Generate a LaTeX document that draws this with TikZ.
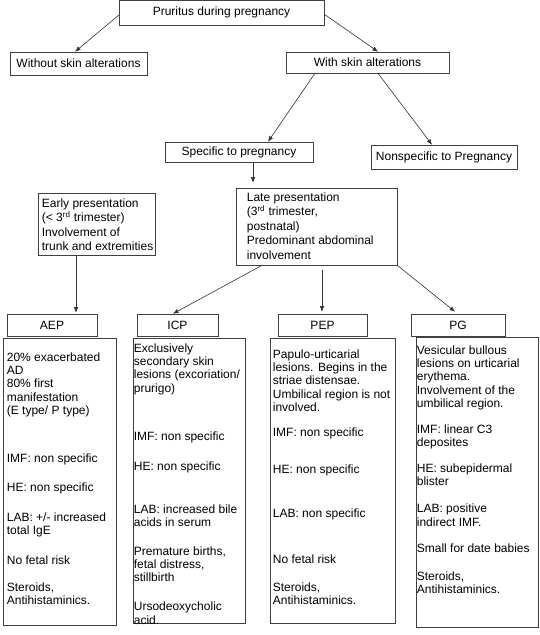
\documentclass[tikz,border=0pt]{standalone}
\usepackage{fontspec}
\setmainfont{Liberation Sans}
\usetikzlibrary{arrows.meta,calc}
\begin{document}
\begin{tikzpicture}[x=1pt,y={(0pt,-1pt)},
  box/.style={draw=black!75,line width=0.6pt,inner sep=0pt,minimum width=#1},
  lbl/.style={font=\fontsize{12}{13.3}\selectfont},
  txt/.style={anchor=north west,inner sep=0pt,align=left,font=\fontsize{12}{13.3}\selectfont},
  txtb/.style={anchor=north west,inner sep=0pt,align=left,font=\fontsize{12}{14.5}\selectfont},
  conn/.style={draw=black!80,line width=0.6pt,-{Latex[length=5.5pt,width=4.5pt]}}]
\useasboundingbox (0,0) rectangle (540,635);
% top levels
\node[box=205,minimum height=24.5,lbl] (top) at (221.5,12.75) {Pruritus during pregnancy};
\node[box=137,minimum height=23,lbl] (without) at (78.5,63.5) {Without skin alterations};
\node[box=163,minimum height=21,lbl] (with) at (367.5,62.5) {With skin alterations};
\node[box=148,minimum height=20,lbl] (specific) at (239,152) {Specific to pregnancy};
\node[box=146,minimum height=24,lbl] (nonspec) at (444,157) {Nonspecific to Pregnancy};
% presentation boxes
\node[box=117,minimum height=62] (early) at (96.5,224) {};
\node[txtb] (earlyt) at ($(early.north west)+(4,5.5)$) {Early presentation\\(< 3\textsuperscript{rd} trimester)\\Involvement of\\trunk and extremities};
\node[box=161,minimum height=77] (late) at (316.5,226.5) {};
\node[txtb] (latet) at ($(late.north west)+(11,4.5)$) {Late presentation\\(3\textsuperscript{rd} trimester,\\postnatal)\\Predominant abdominal\\involvement};
% headers
\node[box=90,minimum height=22,lbl] (aep) at (52,325) {AEP};
\node[box=81,minimum height=22,lbl] (icp) at (177.5,325) {ICP};
\node[box=89,minimum height=22,lbl] (pep) at (322.5,325) {PEP};
\node[box=94,minimum height=22,lbl] (pg) at (458,325) {PG};
% content boxes
\node[box=113,minimum height=287] (aepc) at (59.5,481.5) {};
\node[box=112,minimum height=285] (icpc) at (189,480.5) {};
\node[box=125,minimum height=285] (pepc) at (332.5,480.5) {};
\node[box=122,minimum height=290] (pgc) at (477,482) {};
\node[txt] (aept) at ($(aepc.north west)+(4,14.5)$) {20\% exacerbated\\AD\\80\% first\\manifestation\\(E type/ P type)\\[34.7pt]IMF: non specific\\[15.7pt]HE: non specific\\[16.7pt]LAB: +/- increased\\total IgE\\[16.7pt]No fetal risk\\[13.7pt]Steroids,\\Antihistaminics.};
\node[txt] (icpt) at ($(icpc.north west)+(1,5.5)$) {Exclusively\\secondary skin\\lesions (excoriation/\\prurigo)\\[34.7pt]IMF: non specific\\[16.7pt]HE: non specific\\[29.7pt]LAB: increased bile\\acids in serum\\[15.7pt]Premature births,\\fetal distress,\\stillbirth\\[15.7pt]Ursodeoxycholic\\acid.};
\node[txt] (pept) at ($(pepc.north west)+(3,11.5)$) {Papulo-urticarial\\lesions. Begins in the\\striae distensae.\\Umbilical region is not\\involved.\\[11.7pt]IMF: non specific\\[23.7pt]HE: non specific\\[30.7pt]LAB: non specific\\[32.7pt]No fetal risk\\[14.7pt]Steroids,\\Antihistaminics.};
\node[txt] (pgt) at ($(pgc.north west)+(1,8.5)$) {Vesicular bullous\\lesions on urticarial\\erythema.\\Involvement of the\\umbilical region.\\[12.7pt]IMF: linear C3\\deposites\\[12.7pt]HE: subepidermal\\blister\\[13.7pt]LAB: positive\\indirect IMF.\\[12.7pt]Small for date babies\\[14.7pt]Steroids,\\Antihistaminics.};
% connectors
\draw[conn] ($(top.west)+(0,2.5)$) -- ($(without.north)+(-3.5,0)$);
\draw[conn] ($(top.east)+(0,1.5)$) -- ($(with.north)+(10.5,0)$);
\draw[conn] ($(with.south)+(-52.5,0)$) -- ($(specific.north)+(29,0)$);
\draw[conn] ($(with.south)+(10.5,0)$) -- ($(nonspec.north)+(-12,0)$);
\draw[conn] ($(specific.south)+(14,0)$) -- ($(late.north)+(-63.5,-5)$);
\draw[conn] ($(early.south)+(-20.5,0)$) -- ($(aep.north)+(24,-1)$);
\draw[conn] ($(late.south)+(-54.5,0)$) -- ($(icp.north)+(-4.5,0)$);
\draw[conn] ($(late.south)+(5.5,5)$) -- ($(pep.north)+(-0.5,-2)$);
\draw[conn] (late.south east) -- ($(pg.north)+(-3,-2)$);
\end{tikzpicture}
\end{document}
